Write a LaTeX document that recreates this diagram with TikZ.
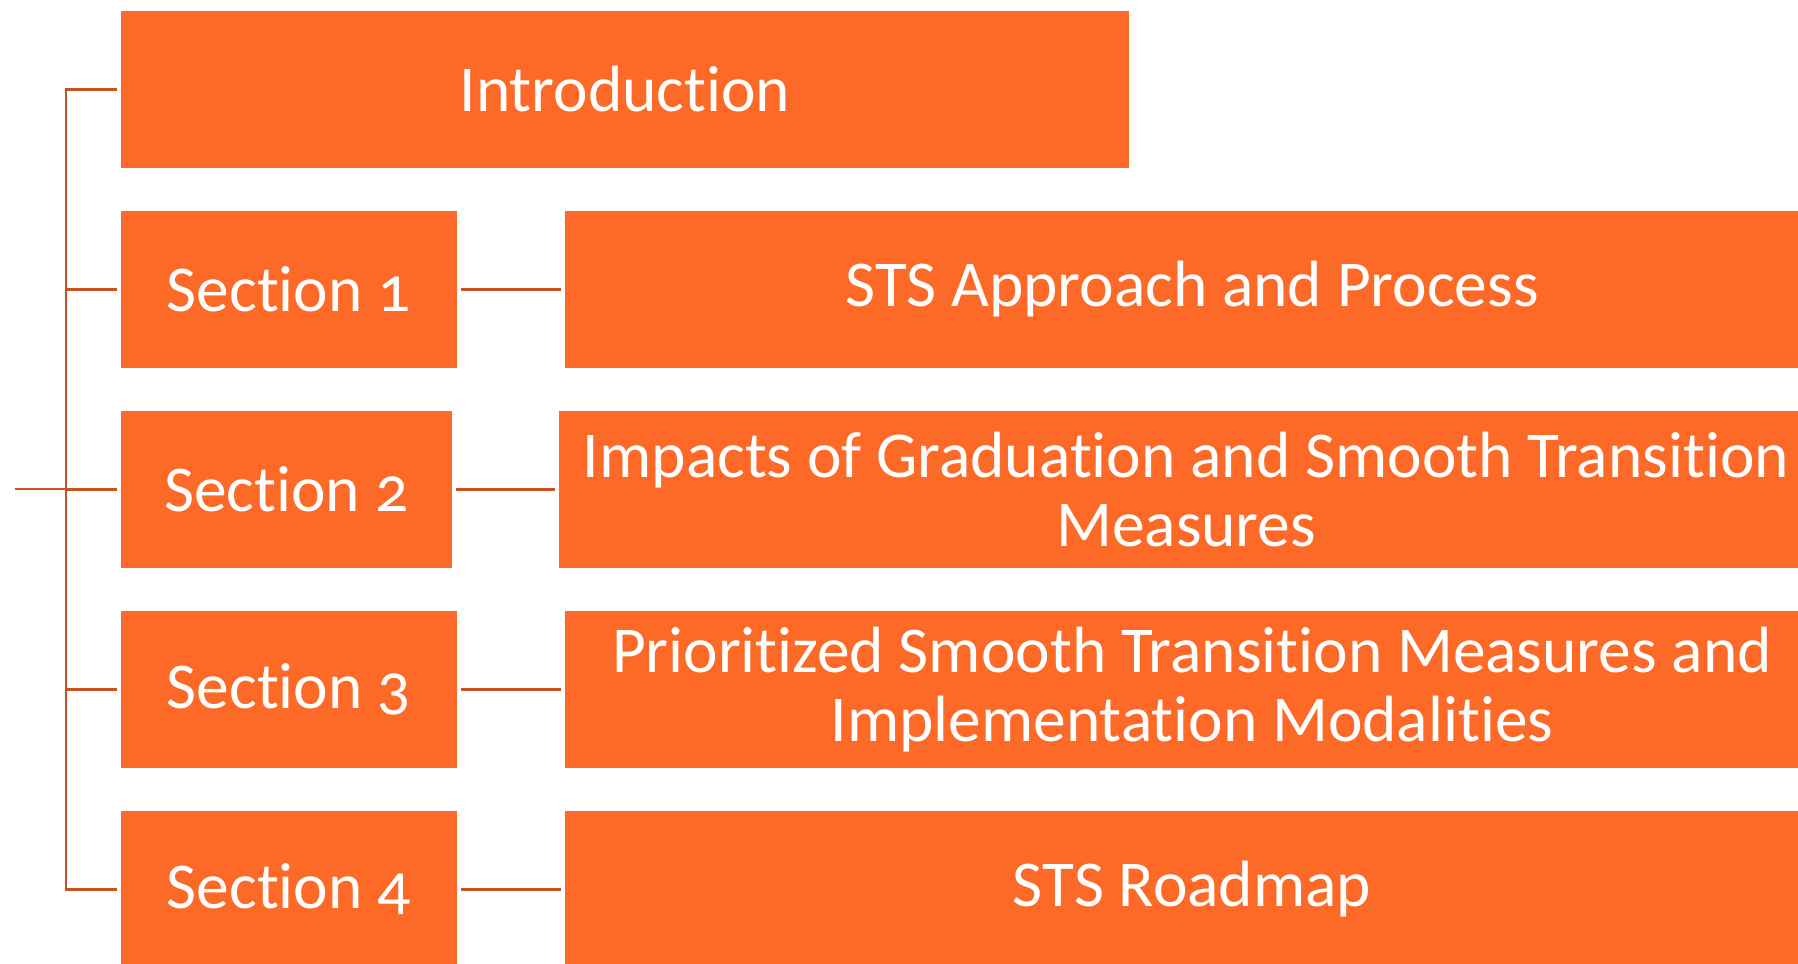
\documentclass[tikz,border=0pt]{standalone}
\usepackage{fontspec}
\setmainfont{Carlito}[Numbers=OldStyle, Ligatures=NoCommon]
\definecolor{boxorange}{HTML}{FD6A27}
\definecolor{linkorange}{HTML}{C9531D}
\tikzset{secbox/.style={fill=boxorange, text=white, anchor=north west,
  minimum height=1.57cm, inner sep=0pt, align=center,
  font=\fontsize{18.6}{19.6}\selectfont}}
\tikzset{link/.style={draw=linkorange, line width=.75pt}}

\begin{document}
\begin{tikzpicture}[x=.01cm, y=-.01cm]
\useasboundingbox (0,0) rectangle (1798,963);

\node[secbox, minimum width=10.08cm] (intro) at (120,10) {Introduction};
\node[secbox, minimum width=3.36cm] (sec1) at (120,210) {Section 1};
\node[secbox, minimum width=3.31cm] (sec2) at (120,410) {Section 2};
\node[secbox, minimum width=3.36cm] (sec3) at (120,610) {Section 3};
\node[secbox, minimum width=3.36cm] (sec4) at (120,810) {Section 4};

\node[secbox, minimum width=12.54cm] (sts) at (564,210) {STS Approach and Process};
\node[secbox, minimum width=12.54cm] (impacts) at (558,410) {Impacts of Graduation and Smooth Transition\\Measures};
\node[secbox, minimum width=12.54cm] (measures) at (564,610) {Prioritized Smooth Transition Measures and\\Implementation Modalities};
\node[secbox, minimum width=12.54cm] (roadmap) at (564,810) {STS Roadmap};

\coordinate (root) at (15,489);
\coordinate (spine) at (66,489);

\draw[link] (root) -- (spine);
\draw[link] ([xshift=-.03cm]intro.west) -| (spine) |- ([xshift=-.03cm]sec4.west);
\foreach \s in {sec1,sec2,sec3}
  \draw[link] (\s.west -| spine) -- ([xshift=-.03cm]\s.west);

\draw[link, shorten <=.03cm, shorten >=.03cm] (sec1.east) -- (sts.west);
\draw[link, shorten <=.03cm, shorten >=.03cm] (sec2.east) -- (impacts.west);
\draw[link, shorten <=.03cm, shorten >=.03cm] (sec3.east) -- (measures.west);
\draw[link, shorten <=.03cm, shorten >=.03cm] (sec4.east) -- (roadmap.west);

\end{tikzpicture}
\end{document}
